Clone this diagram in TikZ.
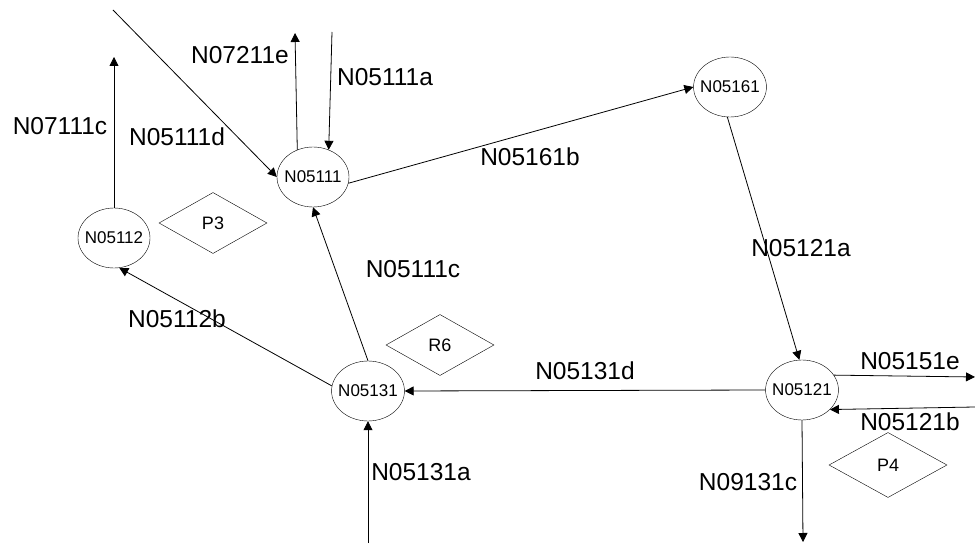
\documentclass[tikz,border=0pt]{standalone}
\usepackage{fontspec}
\setmainfont{Liberation Sans}
\usepackage{tikz}
\usetikzlibrary{arrows.meta,shapes.geometric}

\begin{document}
\begin{tikzpicture}[
x=1pt,y=-1pt,
junc/.style={draw,ellipse,inner xsep=-4pt,inner ysep=0pt,
font=\fontsize{17}{17}\selectfont,
minimum width=72pt,minimum height=60pt},
rule/.style={draw,diamond,inner sep=0pt,font=\fontsize{18}{18}\selectfont,
minimum width=108pt,minimum height=61pt},
lbl/.style={font=\fontsize{24.5}{26}\selectfont,inner sep=0pt},
arr/.style={-{Triangle[length=9pt,width=9pt]},line width=0.8pt}
]
\useasboundingbox (0,0) rectangle (975,545);

% junctions
\node[junc] (n05111) at (313,177) {N05111};
\node[junc] (n05161) at (730,87) {N05161};
\node[junc] (n05112) at (114,238) {N05112};
\node[junc] (n05131) at (368,391) {N05131};
\node[junc] (n05121) at (802,390) {N05121};

\node[rule] (p3) at (213,223) {P3};
\node[rule] (r6) at (440,345) {R6};
\node[rule,minimum width=118pt,minimum height=65pt] (p4) at (888,465) {P4};

% free ends
\coordinate (inD) at (113,10);
\coordinate (outE) at (295,33);
\coordinate (inA) at (332,32);
\coordinate (outC) at (114,57);
\coordinate (inB) at (368,543);
\coordinate (outF) at (975,377);
\coordinate (inG) at (975,407);
\coordinate (outH) at (803,542);

\draw[arr] (inD) -- (n05111.180);
\draw[arr] (n05111.120) -- (outE);
\draw[arr] (inA) -- (n05111.60);
\draw[arr] (n05111.-10) -- (n05161.west);
\draw[arr] (n05161.265) -- (n05121.95);
\draw[arr] (n05121.west) -- (n05131.east);
\draw[arr] (n05131.north) -- (n05111.south);
\draw[arr] (n05131.172) -- (n05112.-80);
\draw[arr] (n05112.north) -- (outC);
\draw[arr] (inB) -- (n05131.south);
\draw[arr] (n05121.25) -- (outF);
\draw[arr] (inG) -- (n05121.-35);
\draw[arr] (n05121.south) -- (outH);

% labels
\node[lbl] (l1) at (240,55) {N07211e};
\node[lbl] (l2) at (385,77) {N05111a};
\node[lbl] (l3) at (177,137) {N05111d};
\node[lbl] (l4) at (60,126) {N07111c};
\node[lbl] (l5) at (530,157) {N05161b};
\node[lbl] (l6) at (801,248) {N05121a};
\node[lbl] (l7) at (413,269) {N05111c};
\node[lbl] (l8) at (177,319) {N05112b};
\node[lbl] (l9) at (585,371) {N05131d};
\node[lbl] (l10) at (421,472) {N05131a};
\node[lbl] (l11) at (910,361) {N05151e};
\node[lbl] (l12) at (910,422) {N05121b};
\node[lbl] (l13) at (748,482) {N09131c};
\end{tikzpicture}
\end{document}
